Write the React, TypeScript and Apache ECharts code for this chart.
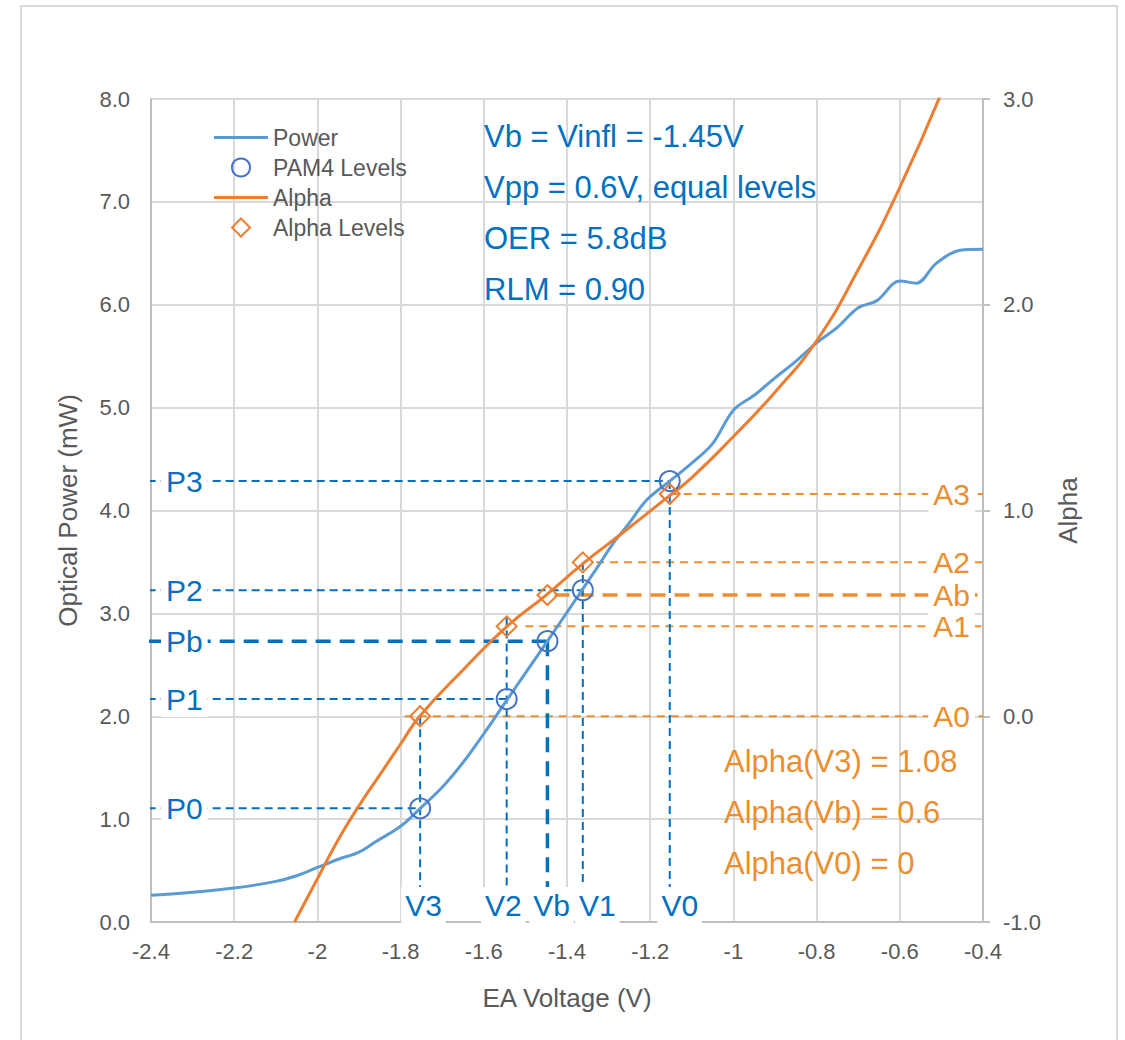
import React, { useEffect, useRef } from 'react';
import * as echarts from 'echarts';

// Power curve (EA voltage V, optical power mW)
const powerVoltage = [-2.4, -2.3, -2.2, -2.1, -2.05, -2.0, -1.95, -1.9, -1.86, -1.8, -1.754, -1.7, -1.65, -1.6, -1.543, -1.5, -1.447, -1.4, -1.364, -1.33, -1.289, -1.25, -1.209, -1.153, -1.1, -1.05, -1.0, -0.95, -0.9, -0.85, -0.8, -0.75, -0.7, -0.655, -0.6, -0.56, -0.513, -0.455, -0.4];
const powerValues = [0.26, 0.29, 0.33, 0.395, 0.45, 0.53, 0.61, 0.68, 0.78, 0.93, 1.10, 1.31, 1.55, 1.83, 2.167, 2.42, 2.73, 3.01, 3.226, 3.43, 3.68, 3.88, 4.10, 4.286, 4.46, 4.65, 4.975, 5.12, 5.29, 5.45, 5.63, 5.78, 5.97, 6.04, 6.23, 6.21, 6.40, 6.53, 6.54];

// Alpha curve (right axis)
const alphaVoltage = [-2.055, -2.0, -1.95, -1.9, -1.85, -1.8, -1.754, -1.65, -1.543, -1.45, -1.361, -1.273, -1.161, -1.1, -1.0, -0.9, -0.8, -0.7, -0.6, -0.5];
const alphaValues = [-1.0, -0.79, -0.60, -0.435, -0.285, -0.135, 0.0, 0.225, 0.439, 0.589, 0.743, 0.881, 1.06, 1.16, 1.36, 1.575, 1.825, 2.17, 2.57, 3.03];

// PAM4 levels
const levelVoltages = [-1.753, -1.545, -1.447, -1.362, -1.153];
const levelPower = [1.105, 2.167, 2.73, 3.226, 4.286];
const levelAlpha = [0.0, 0.437, 0.589, 0.748, 1.08];
const vNames = ['V3', 'V2', 'Vb', 'V1', 'V0'];
const pNames = ['P0', 'P1', 'Pb', 'P2', 'P3'];
const aNames = ['A0', 'A1', 'Ab', 'A2', 'A3'];
const vLineTop = [2.0, 2.96, 2.73, 3.5, 4.286];
const aLineStart = [-1.79, -1.5, -1.43, -1.33, -1.153];
const vLabelX = [-1.745, -1.553, -1.437, -1.327, -1.129];
const vLabelY = 0.165;
const boldIndex = 2;

const infoLines = ['Vb = Vinfl = -1.45V', 'Vpp = 0.6V, equal levels', 'OER = 5.8dB', 'RLM = 0.90'];
const alphaInfo = ['Alpha(V3) = 1.08', 'Alpha(Vb) = 0.6', 'Alpha(V0) = 0'];

const xTicks = { min: -2.4, max: -0.4, interval: 0.2 };
const yTicks = { min: 0, max: 8, interval: 1 };
const y2Ticks = { min: -1, max: 3, interval: 1 };

const FONT = 'Liberation Sans, Arial, sans-serif';
const BLUE_TXT = '#0070C0';
const ORANGE_TXT = '#EC8E2E';
const GRAY_TXT = '#595959';
const LINE_ICON = 'path://M0,0H54V3H0Z';
const DIAMOND_ICON = 'path://M9,0L18,9L9,18L0,9Z';

export default function App() {
  const ref = useRef<HTMLDivElement>(null);
  useEffect(() => {
    if (!ref.current) return;
    const chart = echarts.init(ref.current, undefined, { renderer: 'svg' });
    const series: any[] = [];
    series.push({
      name: 'Power', type: 'line', smooth: 0.35, symbol: 'none', z: 4,
      data: powerVoltage.map((v, i) => [v, powerValues[i]]),
      lineStyle: { color: '#5B9BD5', width: 3 }, itemStyle: { color: '#5B9BD5' },
    });
    series.push({
      name: 'Alpha', type: 'line', smooth: 0.5, symbol: 'none', yAxisIndex: 1, z: 4,
      data: alphaVoltage.map((v, i) => [v, alphaValues[i]]),
      lineStyle: { color: '#ED7D31', width: 3 }, itemStyle: { color: '#ED7D31' },
    });
    // guide lines
    levelVoltages.forEach((v, i) => {
      const bold = i === boldIndex;
      const bStyle = { color: BLUE_TXT, width: bold ? 3.5 : 2, type: bold ? [15, 9] : [8, 5] };
      const oStyle = { color: ORANGE_TXT, width: bold ? 3.5 : 2, type: bold ? [15, 9] : [8, 6] };
      series.push({
        type: 'line', symbol: 'none', silent: true, clip: false, z: 3,
        data: [[-2.408, levelPower[i]], [v, levelPower[i]]], lineStyle: bStyle,
      });
      series.push({
        type: 'line', symbol: 'none', silent: true, z: 3,
        data: [[v, vLineTop[i]], [v, 0]], lineStyle: bStyle,
      });
      series.push({
        type: 'line', symbol: 'none', silent: true, z: 3, yAxisIndex: 1, clip: false,
        data: [[aLineStart[i], levelAlpha[i]], [-0.4, levelAlpha[i]]], lineStyle: oStyle,
      });
    });
    series.push({
      name: 'PAM4 Levels', type: 'scatter', symbol: 'circle', symbolSize: 20, z: 6,
      data: levelVoltages.map((v, i) => [v, levelPower[i]]),
      itemStyle: { color: 'rgba(255,255,255,0)', borderColor: '#4472C4', borderWidth: 2, opacity: 1 },
    });
    series.push({
      name: 'Alpha Levels', type: 'scatter', symbol: 'diamond', symbolSize: 20, z: 6, yAxisIndex: 1,
      data: levelVoltages.map((v, i) => [v, levelAlpha[i]]),
      itemStyle: { color: 'rgba(255,255,255,0)', borderColor: '#ED7D31', borderWidth: 2, opacity: 1 },
    });
    const lbl = (color: string) => ({
      show: true, color, fontSize: 30, fontFamily: FONT, backgroundColor: '#fff',
      padding: [3, 5], lineHeight: 30,
    });
    series.push({
      type: 'scatter', symbolSize: 0, silent: true, z: 10, itemStyle: { opacity: 1 },
      data: levelPower.map((p, i) => ({ value: [-2.4, p], name: pNames[i] })),
      label: { ...lbl(BLUE_TXT), position: 'right', distance: 10, formatter: '{b}' },
    });
    series.push({
      type: 'scatter', symbolSize: 0, silent: true, z: 10, itemStyle: { opacity: 1 },
      data: vLabelX.map((x, i) => ({ value: [x, vLabelY], name: vNames[i] })),
      label: { ...lbl(BLUE_TXT), position: 'inside', formatter: '{b}', padding: [3, 4] },
    });
    series.push({
      type: 'scatter', symbolSize: 0, silent: true, z: 10, yAxisIndex: 1, itemStyle: { opacity: 1 },
      data: levelAlpha.map((a, i) => ({ value: [-0.4, a], name: aNames[i] })),
      label: { ...lbl(ORANGE_TXT), position: 'left', distance: 8, formatter: '{b}' },
    });

    const graphic: any[] = [
      { type: 'rect', shape: { x: 21, y: 6, width: 1096, height: 1060 }, style: { fill: 'none', stroke: '#D9D9D9', lineWidth: 2 }, z: -1, silent: true },
    ];
    infoLines.forEach((t, i) => graphic.push({
      type: 'text', x: 484, y: 136 + i * 51, z: 20,
      style: { text: t, fontSize: 31, fontFamily: FONT, fill: BLUE_TXT, verticalAlign: 'middle' },
    }));
    alphaInfo.forEach((t, i) => graphic.push({
      type: 'text', x: 724, y: 761 + i * 51, z: 20,
      style: { text: t, fontSize: 31, fontFamily: FONT, fill: ORANGE_TXT, verticalAlign: 'middle' },
    }));

    chart.setOption({
      animation: false,
      backgroundColor: '#fff',
      grid: { left: 151, right: 142, top: 99, bottom: 118 },
      legend: {
        data: [
          { name: 'Power', icon: LINE_ICON },
          { name: 'PAM4 Levels' },
          { name: 'Alpha', icon: LINE_ICON },
          { name: 'Alpha Levels', icon: DIAMOND_ICON },
        ],
        orient: 'vertical', left: 209, top: 121, itemWidth: 54, itemHeight: 18, itemGap: 7,
        symbolKeepAspect: true,
        textStyle: { fontSize: 23, fontFamily: FONT, color: GRAY_TXT, lineHeight: 20 },
      },
      xAxis: {
        type: 'value', ...xTicks,
        name: 'EA Voltage (V)', nameLocation: 'middle', nameGap: 63,
        nameTextStyle: { fontSize: 26, fontFamily: FONT, color: GRAY_TXT },
        axisLine: { show: true, onZero: false, lineStyle: { color: '#BFBFBF', width: 2 } },
        axisTick: { show: false },
        axisLabel: {
          margin: 18, fontSize: 22, fontFamily: FONT, color: GRAY_TXT,
          formatter: (v: number) => String(Number(v.toFixed(1))),
        },
        splitLine: { show: true, lineStyle: { color: '#D9D9D9', width: 2 } },
      },
      yAxis: [
        {
          type: 'value', ...yTicks, position: 'left',
          name: 'Optical Power (mW)', nameLocation: 'middle', nameGap: 70,
          nameTextStyle: { fontSize: 26, fontFamily: FONT, color: GRAY_TXT },
          axisLine: { show: true, lineStyle: { color: '#BFBFBF', width: 2 } },
          axisTick: { show: false },
          axisLabel: { margin: 21, fontSize: 22, fontFamily: FONT, color: GRAY_TXT, formatter: (v: number) => v.toFixed(1) },
          splitLine: { show: true, lineStyle: { color: '#D9D9D9', width: 2 } },
        },
        {
          type: 'value', ...y2Ticks, position: 'right',
          name: 'Alpha', nameLocation: 'middle', nameGap: 72,
          nameTextStyle: { fontSize: 26, fontFamily: FONT, color: GRAY_TXT },
          axisLine: { show: true, lineStyle: { color: '#BFBFBF', width: 2 } },
          axisTick: { show: true, length: 7, lineStyle: { color: '#BFBFBF', width: 2 } },
          axisLabel: { margin: 20, fontSize: 22, fontFamily: FONT, color: GRAY_TXT, formatter: (v: number) => v.toFixed(1) },
          splitLine: { show: false },
        },
      ],
      series,
      graphic,
    });
    return () => chart.dispose();
  }, []);
  return <div ref={ref} style={{ position: 'absolute', left: 0, top: 0, width: 1125, height: 1040 }} />;
}
